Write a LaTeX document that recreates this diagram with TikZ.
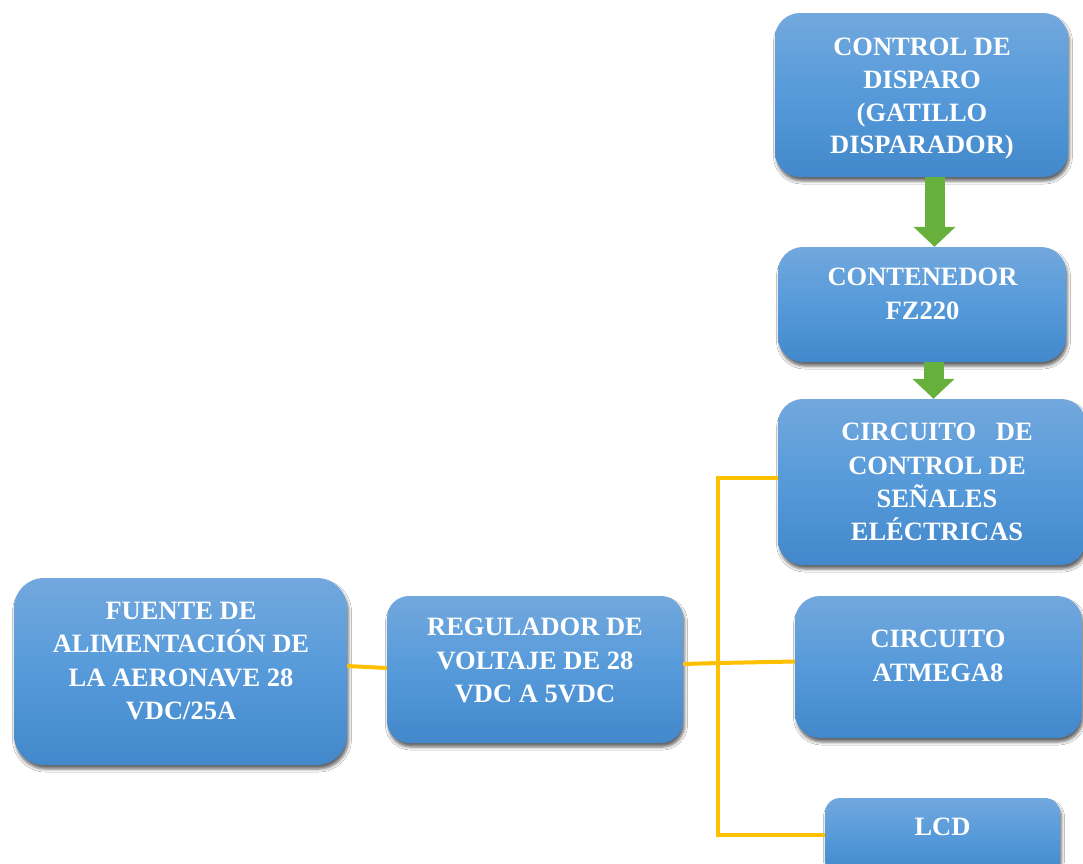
\documentclass[tikz,border=0pt]{standalone}
\usepackage{fontspec}
\setmainfont{Liberation Serif}
\usetikzlibrary{shadows.blur,arrows.meta}

\definecolor{boxtop}{RGB}{114,168,221}
\definecolor{boxmid}{RGB}{86,154,218}
\definecolor{boxbot}{RGB}{66,136,202}
\definecolor{wirecol}{RGB}{255,192,0}
\definecolor{flowgreen}{RGB}{104,176,60}

\begin{document}
\begin{tikzpicture}[x=1pt,y=-1pt,
  block/.style={rounded corners=25pt, inner sep=0pt,
    top color=boxtop, bottom color=boxbot, middle color=boxmid,
    blur shadow={shadow xshift=1.5pt, shadow yshift=-4pt,
      shadow blur radius=3pt, shadow opacity=60}},
  caption/.style={anchor=north, inner sep=0pt, align=center, text=white,
    font=\bfseries\fontsize{26.5}{33.3}\selectfont},
  wire/.style={draw=wirecol, line width=4pt, line join=miter},
  flow/.style={draw=flowgreen, line width=20pt,
    -{Triangle[width=41pt,length=20pt]}}]

\clip (0,0) rectangle (1083,863);
\fill[white] (0,0) rectangle (1083,863);

% blocks
\node[block, minimum width=293pt, minimum height=164pt] (b1) at (921.5,95) {};
\node[block, minimum width=288pt, minimum height=115pt] (b2) at (922,304.5) {};
\node[block, minimum width=308pt, minimum height=166pt] (b3) at (932,482) {};
\node[block, minimum width=287pt, minimum height=142pt] (b4) at (938.5,667) {};
\node[block, rounded corners=15pt, minimum width=235pt, minimum height=77pt] (b5) at (942.5,836.5) {};
\node[block, rounded corners=30pt, minimum width=333pt, minimum height=187pt] (b6) at (180.5,671.5) {};
\node[block, rounded corners=22pt, minimum width=296pt, minimum height=147pt] (b7) at (535,669.5) {};

% captions
\node[caption, font=\bfseries\fontsize{26.5}{32.7}\selectfont] (t1) at (922,38)
  {CONTROL DE\\DISPARO\\(GATILLO\\DISPARADOR)};
\node[caption] (t2) at (922.5,268) {CONTENEDOR\\FZ220};
\node[caption] (t3) at (937,423) {CIRCUITO\hspace{13pt} DE\\CONTROL DE\\SEÑALES\\ELÉCTRICAS};
\node[caption] (t4) at (938,630) {CIRCUITO\\ATMEGA8};
\node[caption] (t5) at (942.5,818) {LCD};
\node[caption] (t6) at (181,602) {FUENTE DE\\ALIMENTACIÓN DE\\LA AERONAVE 28\\VDC/25A};
\node[caption] (t7) at (535,618) {REGULADOR DE\\VOLTAJE DE 28\\VDC A 5VDC};

% power distribution
\coordinate (bus) at (718,663);
\draw[wire] ([yshift=5.5pt]b6.east) -- ([yshift=1.5pt]b7.west);
\draw[wire] ([yshift=5.5pt]b7.east) -- (bus);
\draw[wire] ([yshift=4pt]b3.west) -| (bus) |- ([yshift=1.5pt]b5.west);
\draw[wire] (bus) -- ([yshift=5.5pt]b4.west);

% trigger flow
\draw[flow] ([xshift=13pt]b1.south) -- ([xshift=13pt]b1.south |- b2.north);
\draw[flow] ([xshift=11.5pt]b2.south) -- ([xshift=11.5pt]b2.south |- b3.north);
\end{tikzpicture}
\end{document}
